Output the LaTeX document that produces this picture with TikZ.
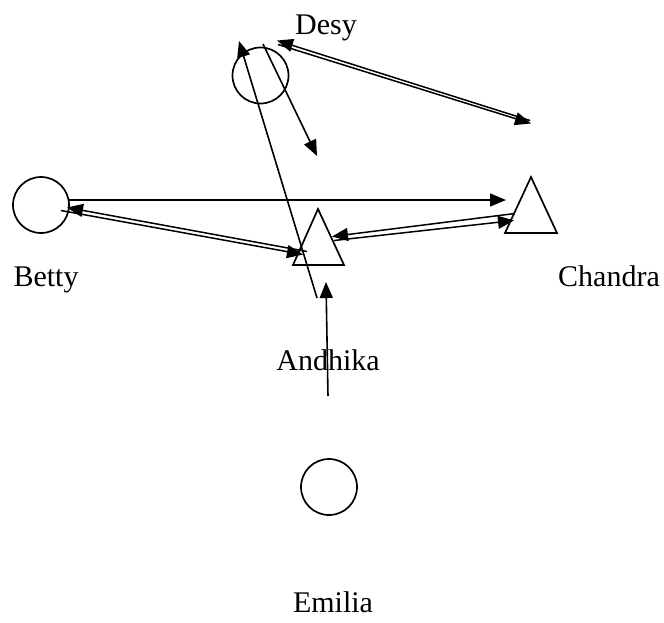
\documentclass[tikz,border=0pt]{standalone}
\usepackage{fontspec}
\setmainfont{Liberation Serif}
\usetikzlibrary{arrows.meta}
\begin{document}
\begin{tikzpicture}[x=1pt,y=-1pt,
  actor/.style={draw,line width=1.7pt,circle,minimum size=56pt,inner sep=0pt},
  lbl/.style={anchor=base,inner sep=0pt,font=\fontsize{30}{34}\selectfont},
  link/.style={line width=1.5pt,-{Triangle[length=16pt,width=13pt]}},
  thin/.style={line width=1.6pt,-{Triangle[length=16pt,width=13pt]}},
  tri/.style={line width=1.7pt}]
\useasboundingbox (0,0) rectangle (664,622);
% actors
\node[actor] (desy) at (260.5,75.5) {};
\node[actor] (betty) at (41,205) {};
\node[actor] (emilia) at (329,487) {};
\draw[tri] (318,209) -- (344,265) -- (293,265) -- cycle;
\coordinate (andhika) at (318,245);
\draw[tri] (531,177) -- (557,233) -- (505,233) -- cycle;
\coordinate (chandra) at (531,215);
% labels
\node[lbl] (ldesy) at (326,34) {Desy};
\node[lbl] (lbetty) at (46,286) {Betty};
\node[lbl] (landhika) at (328,370) {Andhika};
\node[lbl] (lchandra) at (609,286) {Chandra};
\node[lbl] (lemilia) at (333,612) {Emilia};
% connector end points
\coordinate (d1s) at (263,44);   \coordinate (d1e) at (317,156);
\coordinate (d2s) at (317,298);  \coordinate (d2e) at (239,41);
\coordinate (dc1s) at (530,120.5); \coordinate (dc1e) at (277,40.5);
\coordinate (dc2s) at (278,44.5);  \coordinate (dc2e) at (531,123.5);
\coordinate (bc1s) at (69,200);  \coordinate (bc1e) at (506,200);
\coordinate (ba1s) at (307,251.5); \coordinate (ba1e) at (67,207.5);
\coordinate (ba2s) at (61,210.5);  \coordinate (ba2e) at (303,254.5);
\coordinate (ac1s) at (515,213.5); \coordinate (ac1e) at (332,236.5);
\coordinate (ac2s) at (334,240.5); \coordinate (ac2e) at (514,220.5);
\coordinate (ea1s) at (328,396); \coordinate (ea1e) at (326,282);
% connectors
\draw[thin] (d1s) -- (d1e);
\draw[thin] (d2s) -- (d2e);
\draw[link] (dc1s) -- (dc1e);
\draw[link] (dc2s) -- (dc2e);
\draw[thin] (bc1s) -- (bc1e);
\draw[link] (ba1s) -- (ba1e);
\draw[link] (ba2s) -- (ba2e);
\draw[link] (ac1s) -- (ac1e);
\draw[link] (ac2s) -- (ac2e);
\draw[thin] (ea1s) -- (ea1e);
\end{tikzpicture}
\end{document}
